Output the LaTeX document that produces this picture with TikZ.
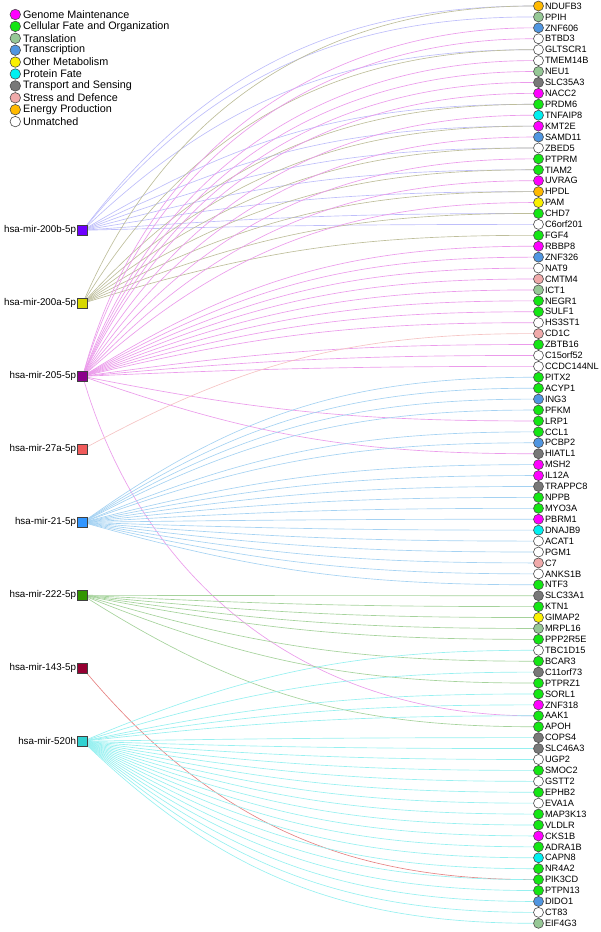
\documentclass[tikz,border=0pt]{standalone}
\usepackage{fontspec}
\setmainfont{Liberation Sans}
\usetikzlibrary{backgrounds, quotes, calc}
% categories
\definecolor{gm}{RGB}{255,0,255}
\definecolor{cf}{RGB}{20,230,20}
\definecolor{tl}{RGB}{150,200,150}
\definecolor{tc}{RGB}{80,150,225}
\definecolor{om}{RGB}{250,240,0}
\definecolor{pf}{RGB}{0,240,240}
\definecolor{ts}{RGB}{120,120,120}
\definecolor{sd}{RGB}{240,170,170}
\definecolor{ep}{RGB}{255,185,0}
\definecolor{um}{RGB}{255,255,255}
% mirnas
\definecolor{c200b}{RGB}{110,0,255}
\definecolor{c200a}{RGB}{215,215,0}
\definecolor{c205}{RGB}{140,0,140}
\definecolor{c27a}{RGB}{240,90,90}
\definecolor{c21}{RGB}{50,150,255}
\definecolor{c222}{RGB}{50,150,0}
\definecolor{c143}{RGB}{150,0,50}
\definecolor{c520h}{RGB}{50,210,210}
\definecolor{edge200b}{RGB}{190,190,250}
\definecolor{edge200a}{RGB}{190,190,155}
\definecolor{edge205}{RGB}{235,155,235}
\definecolor{edge27a}{RGB}{245,195,195}
\definecolor{edge21}{RGB}{165,210,242}
\definecolor{edge222}{RGB}{165,210,155}
\definecolor{edge143}{RGB}{230,130,130}
\definecolor{edge520h}{RGB}{150,240,240}
\tikzset{
    gene/.style={circle,draw=black!70,fill=#1,minimum size=10pt,inner sep=0pt,line width=0.6pt},
    key/.style={gene=#1,minimum size=10.5pt},
    mir/.style={rectangle,draw=black!75,fill=#1,minimum size=10pt,inner sep=0pt,line width=0.6pt},
    link/.style={draw=edge#1,line width=0.65pt},
    every label/.style={inner sep=1pt,font=\fontsize{9.2}{10}\selectfont},
    keytext/.style={inner sep=2pt,font=\fontsize{10.8}{12}\selectfont},
    mirtext/.style={inner sep=1.2pt,font=\fontsize{9.8}{11}\selectfont},
}

\begin{document}
\begin{tikzpicture}[x=1pt,y=1pt]
\useasboundingbox (0,0) rectangle (600,-932);
% legend
\foreach \c/\txt [count=\i] in {gm/Genome Maintenance, cf/Cellular Fate and Organization,
    tl/Translation, tc/Transcription, om/Other Metabolism, pf/Protein Fate,
    ts/Transport and Sensing, sd/Stress and Defence, ep/Energy Production, um/Unmatched}
    \node[key=\c,"\txt" {right,keytext}] (key\c) at (15.3,{-14.5-11.9*(\i-1)}) {};
% mirnas
\node[mir=c200b,"hsa-mir-200b-5p" {left,mirtext}] (mir200b) at (82.7,-230.3) {};
\node[mir=c200a,"hsa-mir-200a-5p" {left,mirtext}] (mir200a) at (82.7,-303.3) {};
\node[mir=c205,"hsa-mir-205-5p" {left,mirtext}]   (mir205)  at (82.7,-376.3) {};
\node[mir=c27a,"hsa-mir-27a-5p" {left,mirtext}]   (mir27a)  at (82.7,-449.3) {};
\node[mir=c21,"hsa-mir-21-5p" {left,mirtext}]     (mir21)   at (82.7,-522.3) {};
\node[mir=c222,"hsa-mir-222-5p" {left,mirtext}]   (mir222)  at (82.7,-595.3) {};
\node[mir=c143,"hsa-mir-143-5p" {left,mirtext}]   (mir143)  at (82.7,-668.3) {};
\node[mir=c520h,"hsa-mir-520h" {left,mirtext}]    (mir520h) at (82.7,-741.3) {};
% targets
\foreach \g/\c [count=\i] in {NDUFB3/ep, PPIH/tl, ZNF606/tc, BTBD3/um, GLTSCR1/um,
    TMEM14B/um, NEU1/tl, SLC35A3/ts, NACC2/gm, PRDM6/cf, TNFAIP8/pf, KMT2E/gm,
    SAMD11/tc, ZBED5/um, PTPRM/cf, TIAM2/cf, UVRAG/gm, HPDL/ep, PAM/om, CHD7/cf,
    C6orf201/um, FGF4/cf, RBBP8/gm, ZNF326/tc, NAT9/um, CMTM4/sd, ICT1/tl, NEGR1/cf,
    SULF1/cf, HS3ST1/um, CD1C/sd, ZBTB16/cf, C15orf52/um, CCDC144NL/um, PITX2/cf,
    ACYP1/cf, ING3/tc, PFKM/cf, LRP1/cf, CCL1/cf, PCBP2/tc, HIATL1/ts, MSH2/gm,
    IL12A/gm, TRAPPC8/ts, NPPB/cf, MYO3A/cf, PBRM1/gm, DNAJB9/pf, ACAT1/um, PGM1/um,
    C7/sd, ANKS1B/um, NTF3/cf, SLC33A1/ts, KTN1/cf, GIMAP2/om, MRPL16/tl, PPP2R5E/cf,
    TBC1D15/um, BCAR3/cf, C11orf73/ts, PTPRZ1/cf, SORL1/cf, ZNF318/gm, AAK1/cf,
    APOH/cf, COPS4/ts, SLC46A3/ts, UGP2/um, SMOC2/cf, GSTT2/um, EPHB2/cf, EVA1A/um,
    MAP3K13/cf, VLDLR/cf, CKS1B/gm, ADRA1B/cf, CAPN8/pf, NR4A2/cf, PIK3CD/cf,
    PTPN13/cf, DIDO1/tc, CT83/um, EIF4G3/tl}
    \node[gene=\c,"\g" {right}] (\g) at (538.5,{-6-10.92*(\i-1)}) {};
% interactions
\scoped[on background layer]{
\foreach \m/\targets in {
    200b/{NDUFB3,PPIH,GLTSCR1,PRDM6,KMT2E,ZBED5,TIAM2,HPDL,CHD7,C6orf201},
    200a/{NDUFB3,GLTSCR1,PRDM6,KMT2E,ZBED5,TIAM2,HPDL,CHD7,FGF4},
    205/{ZNF606,BTBD3,TMEM14B,NEU1,SLC35A3,NACC2,TNFAIP8,SAMD11,PTPRM,UVRAG,PAM,
        RBBP8,ZNF326,NAT9,CMTM4,ICT1,NEGR1,SULF1,HS3ST1,ZBTB16,C15orf52,CCDC144NL,
        LRP1,HIATL1,AAK1},
    27a/{CD1C},
    21/{PITX2,ACYP1,ING3,PFKM,CCL1,PCBP2,MSH2,IL12A,TRAPPC8,NPPB,MYO3A,PBRM1,
        DNAJB9,ACAT1,PGM1,C7,ANKS1B,NTF3},
    222/{SLC33A1,KTN1,GIMAP2,MRPL16,PPP2R5E,BCAR3,PTPRZ1,APOH},
    143/{PIK3CD},
    520h/{TBC1D15,C11orf73,SORL1,ZNF318,AAK1,COPS4,SLC46A3,UGP2,SMOC2,GSTT2,EPHB2,
        EVA1A,MAP3K13,VLDLR,CKS1B,ADRA1B,CAPN8,NR4A2,PIK3CD,PTPN13,DIDO1,CT83,EIF4G3}}{
    \foreach \t in \targets
        \draw[link=\m] let \p1=(mir\m.center), \p2=(\t.center),
            \n1={2*atan2(\y2-\y1,\x2-\x1)} in (mir\m) to[out=\n1,in=180] (\t);
}
}
\end{tikzpicture}
\end{document}
